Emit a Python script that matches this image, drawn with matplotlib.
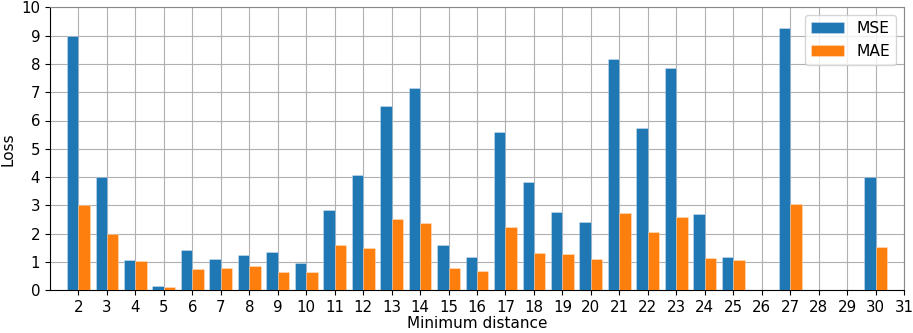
import matplotlib
matplotlib.use("Agg")
import matplotlib.pyplot as plt
import numpy as np

distances = list(range(2, 31))
mse = [9.0, 4.0, 1.07, 0.14, 1.43, 1.10, 1.24, 1.34, 0.98, 2.84, 4.08, 6.51, 7.14, 1.60, 1.17,
       5.59, 3.82, 2.77, 2.40, 8.16, 5.72, 7.86, 2.71, 1.18, 0.0, 9.26, 0.0, 0.0, 4.0]
mae = [3.0, 2.0, 1.02, 0.12, 0.75, 0.79, 0.85, 0.65, 0.65, 1.60, 1.50, 2.52, 2.38, 0.79, 0.68,
       2.23, 1.32, 1.28, 1.11, 2.73, 2.05, 2.58, 1.14, 1.07, 0.0, 3.05, 0.0, 0.0, 1.52]
xticks = list(range(2, 32))

plt.rcParams['font.size'] = 10
fig = plt.figure(figsize=(9.13, 3.33), dpi=100)
ax = fig.add_axes([50/913, 1 - 290.3/333, 854/913, 283/333])
x = np.array(distances)
ax.bar(x, mse, width=-0.4, align='edge', color='#1f77b4', label='MSE',
       edgecolor=(1, 1, 1, 0.35), linewidth=0.6, zorder=3)
ax.bar(x, mae, width=0.4, align='edge', color='#ff7f0e', label='MAE',
       edgecolor=(1, 1, 1, 0.35), linewidth=0.6, zorder=3)
ax.set_xlim(1, 31)
ax.set_ylim(0, 10)
ax.set_xticks(xticks)
ax.set_yticks(range(0, 11))
ax.tick_params(labelsize=10.8)
ax.grid(True, color='#b0b0b0', linewidth=0.8, zorder=0)
ax.set_axisbelow(True)
ax.set_xlabel('Minimum distance', fontsize=11, labelpad=1)
ax.set_ylabel('Loss', fontsize=11)
for s in ['top', 'right']:
    ax.spines[s].set_color('#888888')
ax.legend(loc='upper right', fontsize=11.2, handlelength=2.1)
fig.savefig('out.png', dpi=100)
